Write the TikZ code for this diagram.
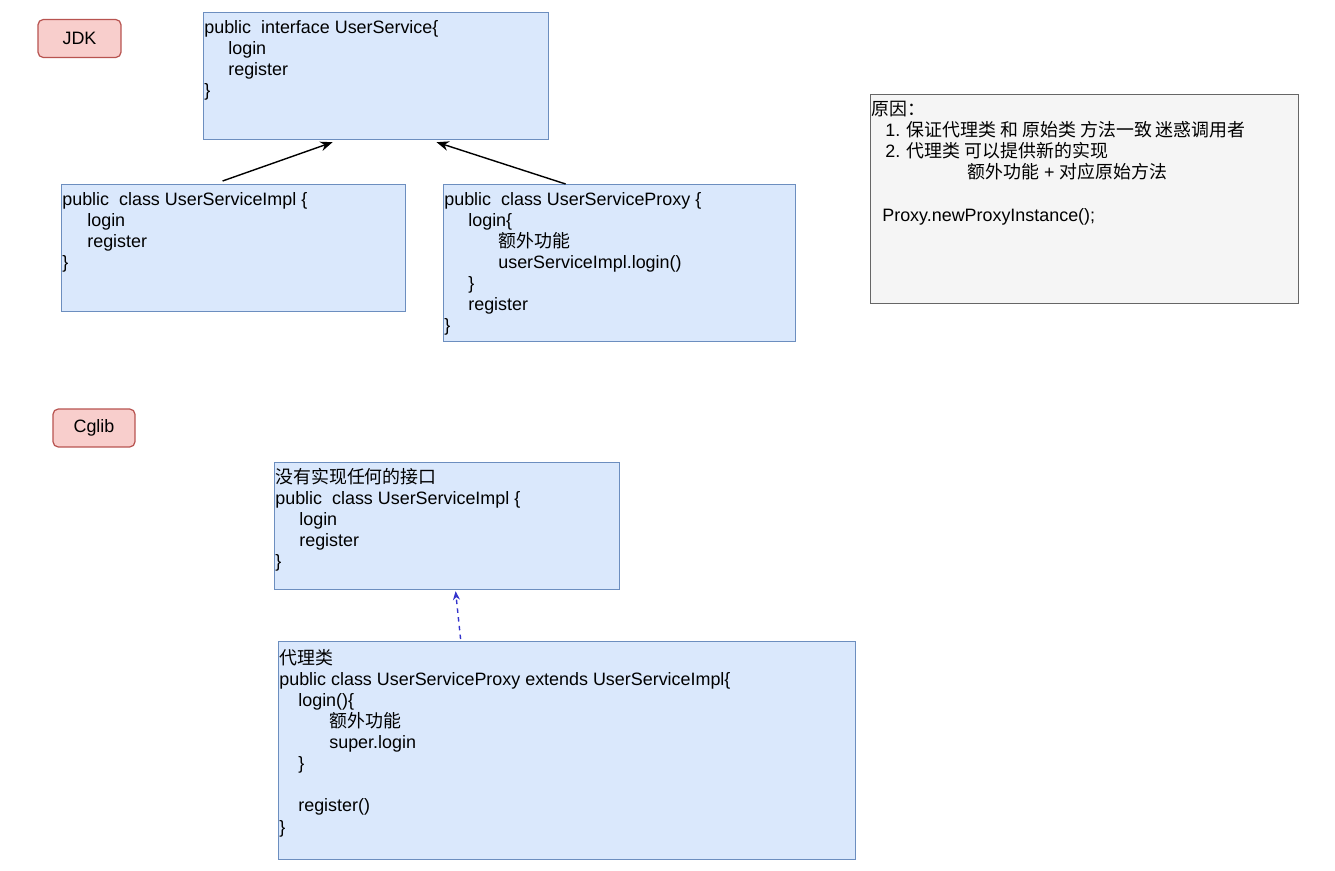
\documentclass[tikz,border=0pt]{standalone}
\usepackage{fontspec}
\setmainfont{Liberation Sans}
\newfontfamily\cjk{Noto Sans CJK SC}
\usepackage{tikz}
\usetikzlibrary{arrows.meta,positioning}
\definecolor{boxfill}{HTML}{DAE8FC}
\definecolor{boxline}{HTML}{6C8EBF}
\definecolor{tagfill}{HTML}{F8CECC}
\definecolor{tagline}{HTML}{B85450}
\definecolor{notefill}{HTML}{F5F5F5}
\definecolor{noteline}{HTML}{666666}
\definecolor{dashblue}{HTML}{3333CC}
\newcommand{\codefont}{\fontsize{10.2pt}{12pt}\selectfont}
\newcommand{\zh}[1]{{\cjk #1}}

\begin{document}
\begin{tikzpicture}[x=0.02cm, y=-0.02cm, >={Stealth[length=7pt,width=5.5pt]},
  every node/.style={font=\codefont},
  codebox/.style={draw=boxline, fill=boxfill, line width=0.7pt, anchor=north west, inner sep=0pt},
  notebox/.style={draw=noteline, fill=notefill, line width=0.7pt, anchor=north west, inner sep=0pt},
  tagbox/.style={draw=tagline, fill=tagfill, line width=0.7pt, rounded corners=3pt, minimum width=1.66cm, minimum height=0.76cm},
  codetext/.style={anchor=north west, align=left, inner sep=0pt, execute at begin node=\rule{0pt}{9pt}}]
\useasboundingbox[fill=white] (0,0) rectangle (1335,871);

% JDK part
\node[tagbox] (jdk) at (79.5,38.5) {JDK};
\node[codebox, minimum width=6.9cm, minimum height=2.54cm] (iface) at (203,12) {};
\node[codebox, minimum width=6.88cm, minimum height=2.54cm] (jimpl) at (61,184) {};
\node[codebox, minimum width=7.04cm, minimum height=3.14cm] (jproxy) at (443,184) {};
\node[notebox, minimum width=8.56cm, minimum height=4.18cm] (reason) at (870,94) {};

\node[codetext] (iface-txt) at ([shift={(1,8)}]iface.north west)
  {public\ \ interface UserService\{\\
   \hspace*{0.48cm}login\\
   \hspace*{0.48cm}register\\
   \}};
\node[codetext] (jimpl-txt) at ([shift={(1,8)}]jimpl.north west)
  {public\ \ class UserServiceImpl \{\\
   \hspace*{0.5cm}login\\
   \hspace*{0.5cm}register\\
   \}};
\node[codetext] (jproxy-txt) at ([shift={(1,8)}]jproxy.north west)
  {public\ \ class UserServiceProxy \{\\
   \hspace*{0.48cm}login\{\\
   \hspace*{1.08cm}\zh{额外功能}\\
   \hspace*{1.08cm}userServiceImpl.login()\\
   \hspace*{0.48cm}\}\\
   \hspace*{0.48cm}register\\
   \}};
\node[codetext] (reason-txt) at ([shift={(1,7)}]reason.north west)
  {\zh{原因：}\\
   \hspace*{0.28cm}1. \zh{保证代理类 和 原始类 方法一致 迷惑调用者}\\
   \hspace*{0.28cm}2. \zh{代理类 可以提供新的实现}\\
   \hspace*{1.92cm}\zh{额外功能} + \zh{对应原始方法}\\[12pt]
   \hspace*{0.22cm}Proxy.newProxyInstance();};

\draw[->, line width=0.8pt] ([xshift=-0.22cm, yshift=0.06cm]jimpl.north) -- ([xshift=-0.87cm, yshift=-0.04cm]iface.south);
\draw[->, line width=0.8pt] ([xshift=-1.08cm]jproxy.north) -- ([xshift=1.21cm, yshift=-0.04cm]iface.south);

% Cglib part
\node[tagbox, minimum width=1.64cm] (cglib) at (94,428) {Cglib};
\node[codebox, minimum width=6.9cm, minimum height=2.54cm] (cimpl) at (274,462) {};
\node[codebox, minimum width=11.54cm, minimum height=4.36cm] (cproxy) at (278,641) {};

\node[codetext] (cimpl-txt) at ([shift={(1,6)}]cimpl.north west)
  {\zh{没有实现任何的接口}\\
   public\ \ class UserServiceImpl \{\\
   \hspace*{0.48cm}login\\
   \hspace*{0.48cm}register\\
   \}};
\node[codetext] (cproxy-txt) at ([shift={(1,8)}]cproxy.north west)
  {\zh{代理类}\\
   public class UserServiceProxy extends UserServiceImpl\{\\
   \hspace*{0.38cm}login()\{\\
   \hspace*{1.0cm}\zh{额外功能}\\
   \hspace*{1.0cm}super.login\\
   \hspace*{0.38cm}\}\\[12pt]
   \hspace*{0.38cm}register()\\
   \}};

\draw[->, >={Stealth[length=5pt,width=4pt]}, dashblue, line width=0.8pt, dash pattern=on 2.5pt off 2.5pt]
  ([xshift=-2.13cm, yshift=0.04cm]cproxy.north) -- ([xshift=0.17cm, yshift=-0.02cm]cimpl.south);
\end{tikzpicture}
\end{document}
